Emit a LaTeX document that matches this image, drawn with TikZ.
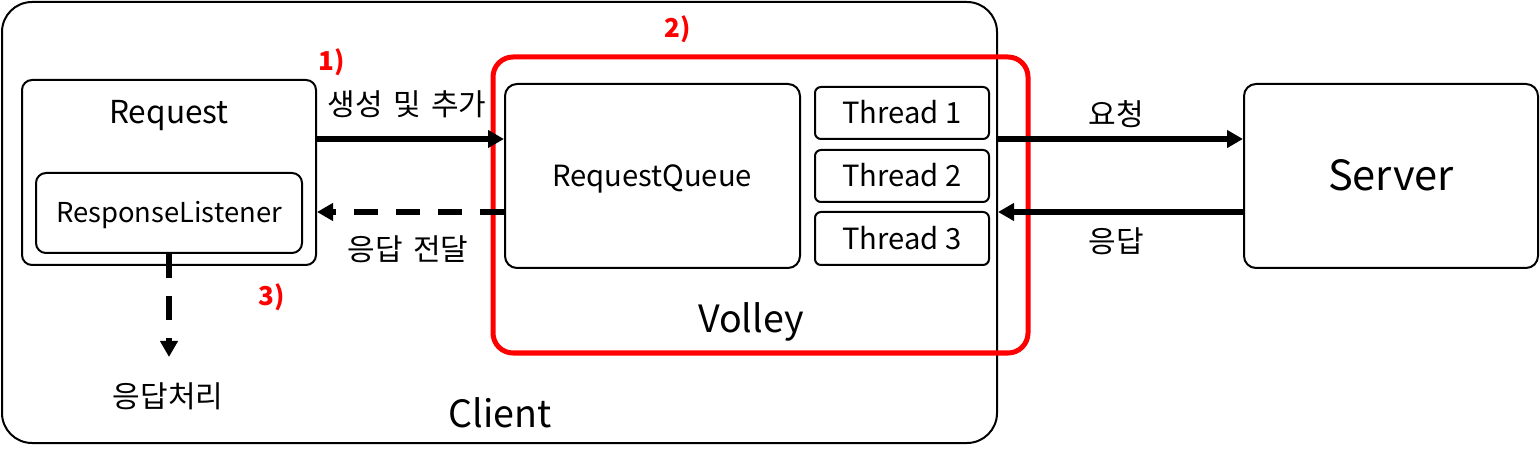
\documentclass[tikz,border=0pt]{standalone}
\usepackage{fontspec}
\setmainfont{Noto Sans CJK KR}
\usetikzlibrary{arrows.meta,fit}
\newcommand\fsz[1]{\fontsize{#1}{#1}\selectfont}
\begin{document}
\begin{tikzpicture}[x=0.5pt,y=-0.5pt,
  box/.style={draw, line width=1pt, inner sep=0pt, rounded corners=5pt},
  arr/.style={line width=3pt, -{Triangle[length=8pt,width=8.5pt]}},
  dsh/.style={dash pattern=on 12pt off 9pt},
  lbl/.style={inner sep=0pt},
  red lbl/.style={inner sep=0pt, text=red, font=\bfseries\fsz{13}}]
\useasboundingbox (0,0) rectangle (1540,459);
% containers
\node[box, rounded corners=15pt, fit={(2,2) (997,443)}] (client) {};
\node[box, fit={(22,80) (316,265)}] (req) {};
\node[box, fit={(36,173) (302,253)}] (rl) {};
\node[box, rounded corners=6pt, fit={(505,84) (800,268)}] (rq) {};
\node[box, rounded corners=3pt, fit={(815,87) (989,139)}] (t1) {};
\node[box, rounded corners=3pt, fit={(815,150) (989,202)}] (t2) {};
\node[box, rounded corners=3pt, fit={(815,212) (989,265)}] (t3) {};
\node[box, rounded corners=6pt, fit={(1244,84) (1538,268)}] (server) {};
\node[draw=red, line width=2.5pt, inner sep=0pt, rounded corners=10pt, fit={(493,57) (1028,353)}] (volley) {};
% texts
\node[lbl, anchor=base, font=\fsz{15.8}] (reqt) at (169,124) {Request};
\node[lbl, anchor=base, font=\fsz{13.7}] (rlt) at (169,223) {ResponseListener};
\node[lbl, anchor=base, font=\fsz{14.6}] (rqt) at (652,187) {RequestQueue};
\node[lbl, anchor=base, font=\fsz{14.6}] (t1t) at (902,124) {Thread 1};
\node[lbl, anchor=base, font=\fsz{14.6}] (t2t) at (902,187) {Thread 2};
\node[lbl, anchor=base, font=\fsz{14.6}] (t3t) at (902,250) {Thread 3};
\node[lbl, anchor=base, font=\fsz{18.8}] (volt) at (751,333) {Volley};
\node[lbl, anchor=base, font=\fsz{20.8}] (servt) at (1391,191) {Server};
\node[lbl, anchor=base, font=\fsz{18.8}] (clit) at (500,427) {Client};
\node[lbl, font=\fsz{15}] (l1) at (407,104) {생성\hspace{0.35em}및\hspace{0.35em}추가};
\node[lbl, font=\fsz{15}] (l2) at (408,249) {응답\hspace{0.35em}전달};
\node[lbl, font=\fsz{15}] (l3) at (1116,114) {요청};
\node[lbl, font=\fsz{15}] (l4) at (1116,241) {응답};
\node[lbl, font=\fsz{15}] (l5) at (168,396) {응답처리};
\node[red lbl] (n1) at (332,62) {1)};
\node[red lbl] (n2) at (678,29) {2)};
\node[red lbl] (n3) at (272,297) {3)};
% connectors
\draw[arr] (req.east |- 0,139) -- (rq.west |- 0,139);
\draw[arr, dsh] (rq.west |- 0,212) -- (req.east |- 0,212);
\draw[arr] (client.east |- 0,139) -- (server.west |- 0,139);
\draw[arr] (server.west |- 0,212) -- (client.east |- 0,212);
\draw[arr, dsh] (rl.south) -- (rl.south |- 0,357);
\end{tikzpicture}
\end{document}
